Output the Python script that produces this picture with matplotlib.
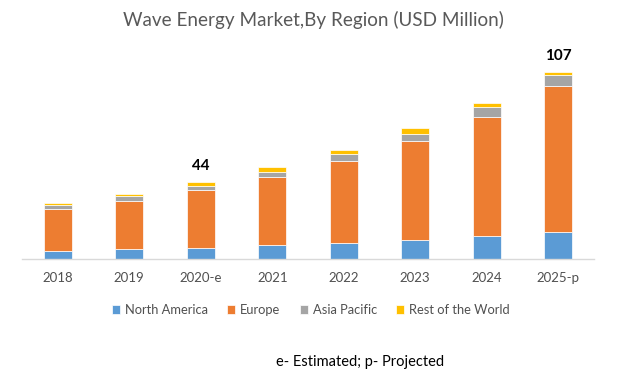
import matplotlib
matplotlib.use("Agg")
import matplotlib.pyplot as plt
import numpy as np

years = ["2018", "2019", "2020-e", "2021", "2022", "2023", "2024", "2025-p"]
north_america = [4.6, 5.9, 6.5, 7.8, 9.4, 10.9, 12.9, 15.5]
europe = [23.9, 27.3, 32.9, 38.9, 46.4, 56.4, 68.1, 83.6]
asia_pacific = [2.6, 2.7, 2.6, 3.0, 4.0, 4.0, 5.7, 6.1]
rest_of_world = [1.1, 1.5, 2.1, 2.7, 2.3, 3.3, 2.3, 1.9]
series_names = ["North America", "Europe", "Asia Pacific", "Rest of the World"]
colors = ["#5B9BD5", "#ED7D31", "#A5A5A5", "#FFC000"]
labeled = {"2020-e": "44", "2025-p": "107"}

plt.rcParams['font.family'] = ['Lato', 'DejaVu Sans']

W, H = 620, 385
fig = plt.figure(figsize=(W / 100, H / 100), dpi=100)
ax_left, ax_right = 22, 594
ax_bottom, ax_top = 259, 49
ax = fig.add_axes([ax_left / W, (H - ax_bottom) / H, (ax_right - ax_left) / W, (ax_bottom - ax_top) / H])

x = np.arange(len(years))
bottom = np.zeros(len(years))
handles = []
for vals, name, c in zip([north_america, europe, asia_pacific, rest_of_world], series_names, colors):
    b = ax.bar(x, vals, width=0.39, bottom=bottom, color=c, edgecolor="white", linewidth=0.5, label=name)
    handles.append(b)
    bottom = bottom + np.array(vals)

for i, yr in enumerate(years):
    if yr in labeled:
        ax.annotate(labeled[yr], (x[i], bottom[i]), xytext=(0, 6), textcoords="offset points",
                    ha="center", va="bottom", fontsize=11, fontweight="bold", color="black")

ax.set_xlim(-0.5, len(years) - 0.5)
ax.set_ylim(0, 120)
ax.set_yticks([])
ax.set_xticks(x)
ax.set_xticklabels(years, fontsize=9.5, color="#505050")
ax.tick_params(axis="x", length=0, pad=9)
for s in ["top", "right", "left"]:
    ax.spines[s].set_visible(False)
ax.spines["bottom"].set_color("#D9D9D9")
ax.spines["bottom"].set_linewidth(1)

fig.text(313 / W, 1 - 20 / H, "Wave Energy Market,By Region (USD Million)", ha="center", va="center",
         fontsize=13.6, color="#595959")

leg = fig.legend(handles=handles, labels=series_names, loc="center", bbox_to_anchor=(311 / W, 1 - 310 / H),
                 ncol=4, frameon=False, fontsize=9.3, handlelength=0.6, handleheight=0.6,
                 columnspacing=1.5, handletextpad=0.4)
for t in leg.get_texts():
    t.set_color("#505050")

fig.text(360 / W, 1 - 362 / H, "e- Estimated; p- Projected", ha="center", va="center",
         fontsize=10.5, color="black")

fig.savefig("out.png", dpi=100)
